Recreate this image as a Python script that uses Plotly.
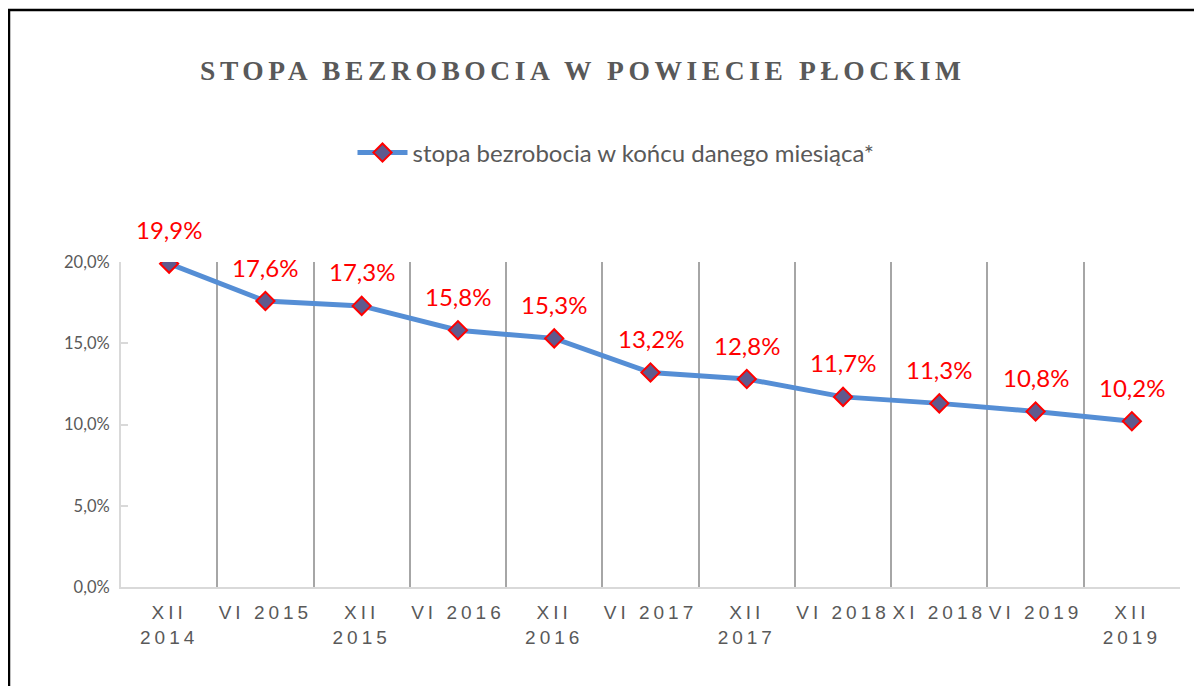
import plotly.graph_objects as go

categories = ["XII<br>2014", "VI 2015", "XII<br>2015", "VI 2016", "XII<br>2016", "VI 2017",
              "XII<br>2017", "VI 2018", "XI 2018", "VI 2019", "XII<br>2019"]
values = [19.9, 17.6, 17.3, 15.8, 15.3, 13.2, 12.8, 11.7, 11.3, 10.8, 10.2]
value_labels = ["19,9%", "17,6%", "17,3%", "15,8%", "15,3%", "13,2%", "12,8%", "11,7%", "11,3%", "10,8%", "10,2%"]
y_ticks = [0, 5, 10, 15, 20]
y_tick_labels = ["0,0%", "5,0%", "10,0%", "15,0%", "20,0%"]
series_name = "stopa bezrobocia w końcu danego miesiąca*"
title_text = "STOPA BEZROBOCIA W POWIECIE PŁOCKIM"

OFF = 8  # page body margin
W, H = 1202 - OFF, 686 - OFF
PX_L, PX_R, PX_T, PX_B = 121, 1180, 262, 587  # plot area in page pixels
L, T = PX_L - OFF, PX_T - OFF
R, B = W - (PX_R - OFF), H - (PX_B - OFF)
pw, ph = PX_R - PX_L, PX_B - PX_T

def px_x(x):
    return (x - PX_L) / pw

def px_y(y):
    return (PX_B - y) / ph

def spaced(s, ls):
    return "<br>".join(f'<span style="letter-spacing:{ls}px">{part}</span>' for part in s.split("<br>"))

fig = go.Figure()
fig.add_trace(go.Scatter(
    x=categories, y=values, mode="lines+markers", name=series_name,
    line=dict(color="#558ED5", width=5),
    marker=dict(symbol="diamond", size=14, color="#5F5A8E", line=dict(color="#FF0000", width=2)),
))

annotations = []
for c, v, t in zip(categories, values, value_labels):
    annotations.append(dict(x=c, y=v, text=t, showarrow=False, xref="x", yref="y",
                            yshift=34, yanchor="middle",
                            font=dict(family="Lato", size=24, color="#FF0000")))

annotations.append(dict(x=px_x(583), y=px_y(70), xref="paper", yref="paper",
                        text=spaced(title_text, 4.6), showarrow=False, xanchor="center", yanchor="middle",
                        font=dict(family="Liberation Serif", size=27.5, color="#595959", weight="bold")))

fig.update_layout(
    width=W, height=H,
    margin=dict(l=L, r=R, t=T, b=B, autoexpand=False),
    paper_bgcolor="white", plot_bgcolor="white",
    showlegend=True,
    legend=dict(orientation="h", x=px_x(616), y=px_y(153), xanchor="center", yanchor="middle",
                font=dict(family="Lato", size=24, color="#595959"), itemwidth=50,
                bgcolor="rgba(0,0,0,0)"),
    annotations=annotations,
    xaxis=dict(type="category", tickson="boundaries", showgrid=True, gridcolor="#A6A6A6", gridwidth=2,
               showline=True, linecolor="#D9D9D9", linewidth=2, ticks="",
               tickmode="array", tickvals=categories, ticktext=[spaced(c, 4) for c in categories],
               tickfont=dict(family="Liberation Sans", size=19, color="#595959"), tickangle=0,
               ticklabelstandoff=7, range=[-0.5, len(categories) - 0.5], fixedrange=True),
    yaxis=dict(range=[0, 20], tickvals=y_ticks, ticktext=y_tick_labels, showgrid=False, zeroline=False,
               showline=True, linecolor="#D9D9D9", linewidth=2, ticks="inside", ticklen=7,
               tickcolor="#D9D9D9", tickwidth=2,
               tickfont=dict(family="Lato", size=16.5, color="#595959"), ticklabelstandoff=6),
    shapes=[dict(type="rect", xref="paper", yref="paper",
                 x0=px_x(OFF + 1), x1=px_x(1202 + 20), y0=px_y(686 + 20), y1=px_y(10),
                 line=dict(color="black", width=2.5), fillcolor="rgba(0,0,0,0)", layer="above")],
)

fig.write_html("out.html")
